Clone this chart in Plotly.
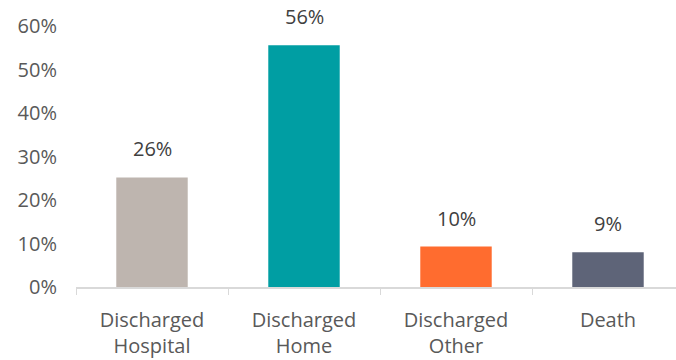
import plotly.graph_objects as go

categories = ["Discharged<br>Hospital", "Discharged<br>Home", "Discharged<br>Other", "Death"]
values = [0.252, 0.556, 0.093, 0.080]
value_labels = ["26%", "56%", "10%", "9%"]
colors = ["#BEB5AF", "#009EA3", "#FF6C2F", "#5E6478"]

FONT = "Open Sans"

fig = go.Figure(go.Bar(
    x=categories, y=values, marker=dict(color=colors, line=dict(width=0)),
    width=0.47, hoverinfo="skip",
))

for c, v, t in zip(categories, values, value_labels):
    fig.add_annotation(x=c, y=v, text=t, showarrow=False, yanchor="bottom",
                       yshift=13, font=dict(family=FONT, size=20, color="#404040"))

fig.update_layout(
    width=676, height=360,
    margin=dict(l=76, r=0, t=26, b=73),
    paper_bgcolor="white", plot_bgcolor="white",
    showlegend=False,
    font=dict(family=FONT, size=20, color="#595959"),
    xaxis=dict(
        type="category", range=[-0.5, 3.5 - 8 / 152],
        showline=True, linecolor="#D9D9D9", linewidth=2,
        ticks="outside", tickson="boundaries", ticklen=6, tickcolor="#D9D9D9",
        ticklabelstandoff=14,
        tickfont=dict(family=FONT, size=20, color="#595959"),
        showgrid=False, zeroline=False,
    ),
    yaxis=dict(
        range=[0, 0.6], dtick=0.1, tickformat=".0%",
        showgrid=False, zeroline=False, showline=False,
        ticklabelstandoff=18,
        tickfont=dict(family=FONT, size=20, color="#595959"),
    ),
)

fig.write_html("out.html")
